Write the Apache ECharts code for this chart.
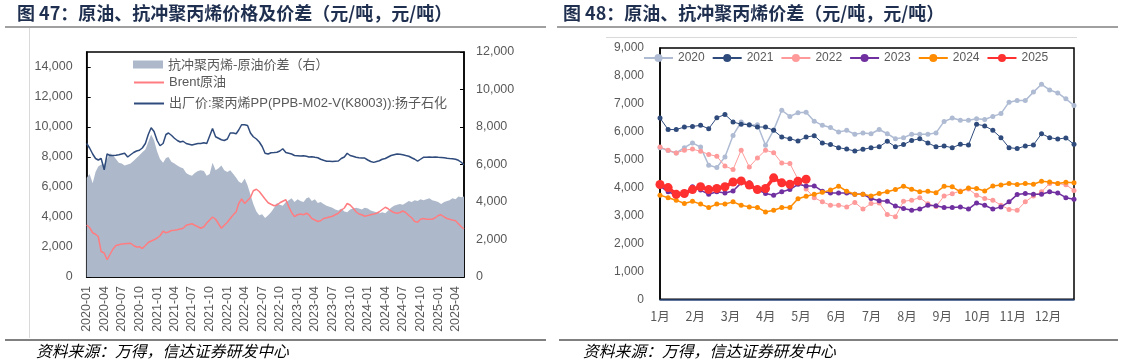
<!DOCTYPE html>
<html><head><meta charset="utf-8">
<script src="https://cdn.jsdelivr.net/npm/echarts@6/dist/echarts.min.js"></script>
<style>html,body{margin:0;padding:0;background:#fff}#c{width:1123px;height:364px}</style>
</head><body><div id="c"></div>
<script>
// ---------- Figure 47: semi-monthly samples (1st & 16th), 2020-01-01 .. 2025-05-15 ----------
const spreadName = '抗冲聚丙烯-原油价差（右）';
const brentName = 'Brent原油';
const ppName = '出厂价:聚丙烯PP(PPB-M02-V(K8003)):扬子石化';

// PP ex-factory price (left axis)
const ppPrice = [
  8900, 8600, 8200, 7900, 7800, 7900, 7150, 8200, 8100, 8100, 8120, 8150, 8200, 8250, 8000, 8150, 8300, 8400, 8450, 8600, 8900, 9500, 9950, 9700,
  9100, 8750, 8900, 9500, 9600, 9450, 9250, 9100, 9000, 9050, 8900, 8850, 8800, 8850, 8900, 8900, 8950, 8900, 9400, 9900, 9350, 9250, 9150, 9100,
  9200, 9600, 9600, 9550, 9800, 10150, 10150, 10100, 9600, 9350, 9200, 9000, 8700, 8250, 8200, 8280, 8300, 8320, 8400, 8550, 8300, 8250, 8200, 8100,
  8080, 8060, 8080, 8050, 8000, 8020, 7980, 7950, 7850, 7780, 7720, 7720, 7700, 7720, 7730, 7900, 8000, 8250, 8100, 8050, 7980, 7950, 7930, 7930,
  7800, 7700, 7640, 7700, 7750, 7850, 7900, 8000, 8100, 8150, 8200, 8180, 8150, 8100, 8050, 7950, 7850, 7720, 7850, 7980, 7980, 8000, 7990, 8000,
  7980, 7970, 7950, 7920, 7900, 7880, 7850, 7780, 7650, 7470
];
// Brent crude (left axis)
const brent = [
  3470, 3300, 2950, 2850, 2700, 1700, 1600, 1150, 1500, 1850, 2100, 2150, 2200, 2220, 2240, 2250, 2100, 2000, 2020, 1900, 2100, 2300, 2400, 2480,
  2600, 2750, 3050, 2950, 3000, 3100, 3120, 3150, 3200, 3250, 3450, 3500, 3550, 3450, 3350, 3250, 3350, 3600, 3800, 4000, 3850, 3550, 3250, 3450,
  3650, 3900, 4150, 4350, 4900, 5200, 4900, 5100, 5300, 5750, 5850, 5700, 5450, 5200, 4950, 4850, 4750, 4800, 4950, 5050, 5150, 4700, 4300, 4020,
  4150, 4200, 4150, 4250, 4150, 3900, 3800, 3700, 3750, 3900, 3950, 4000, 4050, 4150, 4250, 4450, 4600, 4900, 4800, 4600, 4350, 4200, 4150, 4050,
  4100, 4150, 4200, 4250, 4350, 4500, 4650, 4550, 4400, 4300, 4250, 4300, 4400, 4300, 4100, 3950, 3700, 3650, 3850, 3900, 3850, 3850, 3850, 3950,
  4100, 4150, 4000, 3900, 3850, 3800, 3750, 3550, 3350, 3200
];
// PP - crude spread (right axis)
const spread = [
  5300, 5500, 5000, 5600, 5900, 6000, 6000, 6300, 6600, 6500, 6300, 6100, 6050, 5950, 6000, 6050, 6200, 6350, 6500, 6650, 6800, 7200, 7600, 7300,
  6700, 6300, 6100, 6350, 6400, 6150, 6050, 5950, 5850, 5800, 5550, 5450, 5400, 5550, 5650, 5700, 5650, 5400, 5500, 6100, 5700, 5800, 5950, 5700,
  5600, 5700, 5500, 5300, 5100, 5000, 5250, 4900, 4400, 3900, 3500, 3300, 3350, 3150, 3300, 3450, 3700, 3950, 3850, 3800, 4000, 4100, 4200, 4000,
  4150, 4050, 4000, 4200, 4250, 4050, 4150, 3950, 4000, 3900, 3800, 3750, 3700, 3600, 3550, 3650, 3500, 3450, 3600, 3650, 3700, 3650, 3600, 3700,
  3650, 3550, 3500, 3450, 3400, 3450, 3400, 3550, 3700, 3800, 3850, 3900, 3850, 3950, 4050, 4000, 4100, 4050, 4150, 4100, 4150, 4200, 4100, 4050,
  4000, 3900, 4000, 4050, 4100, 4200, 4150, 4300, 4250, 4300
];

// ---------- Figure 48: weekly spread by year ----------
const monthLabels = ['1月','2月','3月','4月','5月','6月','7月','8月','9月','10月','11月','12月'];
const years = ['2020','2021','2022','2023','2024','2025'];
const y2020 = [5430,5330,5240,5430,5600,5450,4800,4720,5100,5870,6350,6230,6250,5520,6060,6770,6550,6680,6700,6380,6230,6150,5990,6050,5910,
  5960,5930,6080,5930,5750,5790,5910,5910,5910,5960,6370,6490,6410,6410,6470,6440,6550,6650,7060,7120,7120,7420,7700,7500,7390,7180,6940];
const y2021 = [6490,6080,6080,6170,6190,6230,6110,6500,6620,6350,6270,6250,6170,6170,6050,5810,5750,5670,5810,5860,5600,5540,5430,5380,5310,
  5370,5430,5460,5660,5460,5540,5690,5750,5600,5460,5490,5430,5550,5530,6270,6210,6050,5790,5430,5400,5490,5530,5930,5790,5740,5780,5550];
const y2022 = [5450,5340,5240,5340,5380,5300,5190,5120,4770,4650,5340,4740,5060,5340,5250,4880,4860,4300,3950,3640,3490,3370,3370,3310,3470,
  3230,3430,3450,3040,2960,3510,3550,3640,3420,3320,3700,3780,3880,3950,3730,3610,3550,3370,3220,3190,3490,3700,3850,4150,4150,4100,3900];
const y2023 = [4050,3850,3730,3790,4030,3910,3760,3850,3810,3880,4170,4170,3930,3790,3730,3850,3930,4120,4060,4060,3870,3810,3810,3810,3760,
  3760,3610,3530,3510,3340,3250,3190,3230,3370,3350,3290,3290,3310,3230,3450,3370,3230,3310,3490,3750,3790,3760,3760,3850,3810,3640,3580];
const y2024 = [3730,3640,3550,3430,3510,3410,3290,3410,3410,3490,3370,3310,3290,3130,3190,3290,3290,3600,3690,3760,3830,3910,4050,3870,3760,
  3760,3700,3790,3850,3930,4050,3940,3850,3870,3820,4050,4030,3850,3990,3970,3880,4060,4090,4150,4110,4150,4120,4230,4200,4150,4190,4170];
const y2025 = [4110,4000,3760,3790,3930,4030,3930,3970,4030,4200,4240,4090,3930,3970,4350,4170,4120,4230,4300];
const yearValues = [y2020, y2021, y2022, y2023, y2024, y2025];

// ---------- build categories ----------
const dayCats = [];
for (let t = Date.UTC(2020, 0, 1); t <= Date.UTC(2025, 4, 15); t += 86400000) {
  dayCats.push(new Date(t).toISOString().slice(0, 10));
}
const dayIndex = {};
dayCats.forEach((d, i) => { dayIndex[d] = i; });
const sampleDates = [];
for (let y = 2020; y <= 2025; y++) {
  for (let m = 1; m <= 12; m++) {
    if (y === 2025 && m > 5) break;
    const mm = String(m).padStart(2, '0');
    sampleDates.push(`${y}-${mm}-01`);
    sampleDates.push(y === 2025 && m === 5 ? `${y}-${mm}-15` : `${y}-${mm}-16`);
  }
}
const pairs = arr => sampleDates.map((d, i) => [dayIndex[d], arr[i]]);
const isQuarter = (idx, v) => v.slice(8) === '01' && ['01','04','07','10'].includes(v.slice(5, 7));
const monthStep = 365 / 12 / 7;
const fmt = v => Number(v).toLocaleString('en-US');

const FONT = '"Liberation Sans", "Noto Sans CJK SC", sans-serif';
const CJK = '"Noto Sans CJK SC", sans-serif';
const gray = '#595959';

const yearStyles = [
  { color: '#AEBBD3', width: 1.5, size: 5 },
  { color: '#2F4B7C', width: 1, size: 5 },
  { color: '#FF9A9A', width: 1, size: 5 },
  { color: '#7030A0', width: 1.5, size: 5 },
  { color: '#FF8C00', width: 1.5, size: 5 },
  { color: '#FF3030', width: 3.5, size: 9 }
];

const chart = echarts.init(document.getElementById('c'), null, { renderer: 'canvas' });
const option = {
  animation: false,
  textStyle: { fontFamily: FONT },
  grid: [
    { left: 86.7, top: 52, width: 377.3, height: 225, show: true, borderColor: '#000', borderWidth: 1.5 },
    { left: 660, top: 48, width: 414, height: 251.3, show: true, borderColor: '#000', borderWidth: 1.5 }
  ],
  xAxis: [
    {
      type: 'category', gridIndex: 0, data: dayCats, boundaryGap: false,
      axisLine: { lineStyle: { color: '#000', width: 1.5 } },
      axisTick: { inside: true, length: 4, interval: isQuarter, lineStyle: { color: '#000' } },
      axisLabel: { interval: isQuarter, rotate: 90, formatter: v => v.slice(0, 7), fontSize: 12.5, color: gray, margin: 9, fontFamily: FONT },
      splitLine: { show: false }
    },
    {
      type: 'value', gridIndex: 1, min: 0, max: 51, interval: monthStep,
      axisLine: { show: true, lineStyle: { color: '#2F4B7C', width: 1.5 } },
      axisTick: { show: false }, splitLine: { show: false },
      axisLabel: {
        showMaxLabel: false, showMinLabel: true, fontSize: 12.5, color: gray, margin: 11, fontFamily: CJK,
        formatter: v => { const k = Math.round(v / monthStep); return (Math.abs(v - k * monthStep) < 0.01 && k < 12) ? monthLabels[k] : ''; }
      }
    }
  ],
  yAxis: [
    {
      type: 'value', gridIndex: 0, min: 0, max: 15000, interval: 2000, position: 'left',
      axisLine: { show: true, lineStyle: { color: '#000', width: 1.5 } },
      axisTick: { show: true, inside: true, length: 4, lineStyle: { color: '#000' } },
      axisLabel: { showMaxLabel: false, formatter: fmt, fontSize: 12.5, color: gray, margin: 14 },
      splitLine: { show: false }
    },
    {
      type: 'value', gridIndex: 0, min: 0, max: 12000, interval: 2000, position: 'right',
      axisLine: { show: true, lineStyle: { color: '#000', width: 1.5 } },
      axisTick: { show: true, inside: true, length: 4, lineStyle: { color: '#000' } },
      axisLabel: { formatter: fmt, fontSize: 12.5, color: gray, margin: 12 },
      splitLine: { show: false }
    },
    {
      type: 'value', gridIndex: 1, min: 0, max: 9000, interval: 1000,
      axisLine: { show: true, lineStyle: { color: '#000', width: 1.5 } },
      axisTick: { show: false },
      axisLabel: { formatter: fmt, fontSize: 12, color: gray, margin: 16 },
      splitLine: { show: false }
    }
  ],
  legend: [
    { data: [{ name: spreadName, icon: 'rect' }], left: 133, top: 58, padding: 0, itemWidth: 30, itemHeight: 8,
      textStyle: { fontSize: 13, color: gray, fontFamily: CJK } },
    { data: [{ name: brentName, itemStyle: { opacity: 0 } }], left: 133, top: 76, padding: 0, itemWidth: 30, itemHeight: 12,
      textStyle: { fontSize: 13, color: gray, fontFamily: FONT } },
    { data: [{ name: ppName, itemStyle: { opacity: 0 } }], left: 133, top: 97, padding: 0, itemWidth: 30, itemHeight: 12,
      textStyle: { fontSize: 13, color: gray, fontFamily: FONT } },
    { data: years, left: 643, top: 52, padding: 0, itemGap: 7, itemWidth: 29, itemHeight: 10,
      textStyle: { fontSize: 12, color: gray, fontFamily: FONT } }
  ],
  series: [
    { name: spreadName, type: 'line', xAxisIndex: 0, yAxisIndex: 1, data: pairs(spread), symbol: 'none',
      color: '#ADB9CA', lineStyle: { width: 0 }, areaStyle: { color: '#ADB9CA', opacity: 1 }, z: 1 },
    { name: brentName, type: 'line', xAxisIndex: 0, yAxisIndex: 0, data: pairs(brent), symbol: 'none',
      color: '#FF7C80', lineStyle: { width: 1.5 }, z: 2 },
    { name: ppName, type: 'line', xAxisIndex: 0, yAxisIndex: 0, data: pairs(ppPrice), symbol: 'none',
      color: '#2F4B7C', lineStyle: { width: 1.5 }, z: 3 }
  ].concat(years.map((yr, i) => ({
    name: yr, type: 'line', xAxisIndex: 1, yAxisIndex: 2,
    data: yearValues[i].map((v, w) => [w, v]),
    symbol: 'circle', symbolSize: yearStyles[i].size, showSymbol: true,
    color: yearStyles[i].color, lineStyle: { width: yearStyles[i].width }, z: 3 + i
  }))),
  graphic: [
    { type: 'text', left: 17, top: 4, style: { text: '图 47：原油、抗冲聚丙烯价格及价差（元/吨，元/吨）', fontSize: 18, fontWeight: 'bold', fill: '#1F2F4F', fontFamily: CJK } },
    { type: 'text', left: 563, top: 4, style: { text: '图 48：原油、抗冲聚丙烯价差（元/吨，元/吨）', fontSize: 18, fontWeight: 'bold', fill: '#1F2F4F', fontFamily: CJK } },
    { type: 'line', shape: { x1: 5, y1: 27, x2: 546, y2: 27 }, style: { stroke: '#808080', lineWidth: 1.5 } },
    { type: 'line', shape: { x1: 557, y1: 27, x2: 1118, y2: 27 }, style: { stroke: '#808080', lineWidth: 1.5 } },
    { type: 'line', shape: { x1: 29.5, y1: 28, x2: 29.5, y2: 338 }, style: { stroke: '#D9D9D9', lineWidth: 1 } },
    { type: 'line', shape: { x1: 606, y1: 37.5, x2: 1077, y2: 37.5 }, style: { stroke: '#D9D9D9', lineWidth: 1 } },
    { type: 'line', shape: { x1: 5, y1: 340, x2: 546, y2: 340 }, style: { stroke: '#808080', lineWidth: 2 } },
    { type: 'line', shape: { x1: 559, y1: 340, x2: 1118, y2: 340 }, style: { stroke: '#808080', lineWidth: 2 } },
    { type: 'text', left: 36, top: 343, style: { text: '资料来源：万得，信达证券研发中心', fontSize: 15.8, fontStyle: 'italic', fill: '#000', fontFamily: CJK } },
    { type: 'text', left: 583, top: 343, style: { text: '资料来源：万得，信达证券研发中心', fontSize: 15.8, fontStyle: 'italic', fill: '#000', fontFamily: CJK } }
  ]
};
chart.setOption(option);
</script>
</body></html>
